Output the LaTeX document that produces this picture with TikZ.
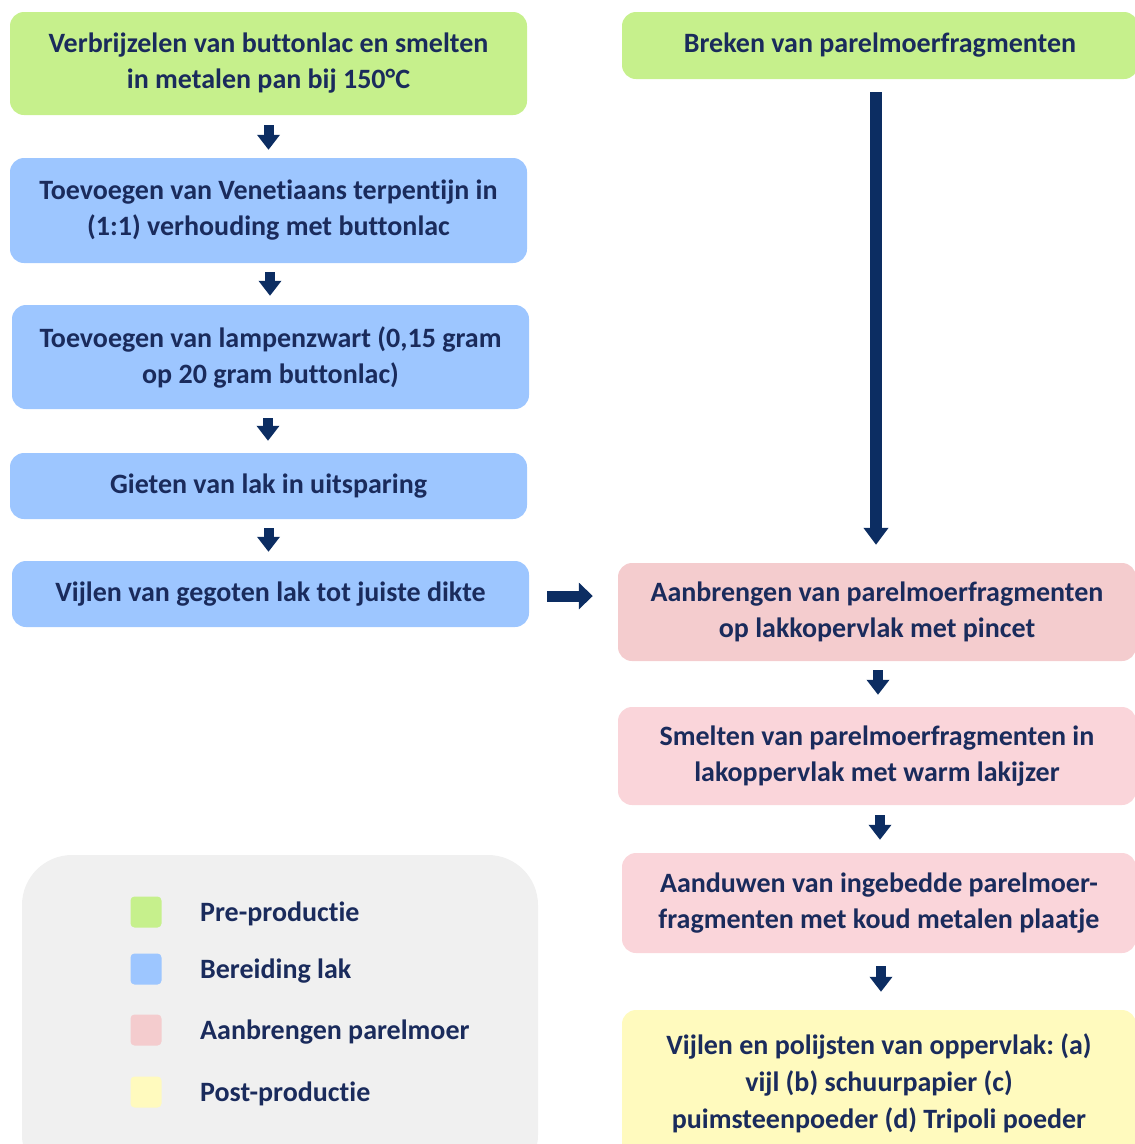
\documentclass[tikz,border=0pt]{standalone}
\usepackage{fontspec}
\setmainfont{Carlito}[Ligatures=NoCommon]
\frenchspacing
\usetikzlibrary{arrows.meta}
\definecolor{preprod}{HTML}{C6F08C}
\definecolor{bereid}{HTML}{9DC6FF}
\definecolor{aanbr}{HTML}{F4CCCE}
\definecolor{aanbrlicht}{HTML}{FAD5DA}
\definecolor{postprod}{HTML}{FFFABE}
\definecolor{legendgrijs}{HTML}{F0F0F0}
\definecolor{navy}{HTML}{0C2D62}
\definecolor{tekst}{HTML}{1A2B5C}

\begin{document}
\begin{tikzpicture}[x=1pt, y=-1pt,
    stap/.style={rounded corners=14pt, minimum width=517pt, align=center, text=tekst,
      font=\fontsize{28}{36}\selectfont\bfseries, inner sep=0pt},
    pijl/.style={navy, line width=10pt, -{Triangle[length=15pt,width=22pt]}},
    vakje/.style={rounded corners=4pt, minimum width=31pt, minimum height=31pt, inner sep=0pt},
    legtekst/.style={text=tekst, font=\fontsize{28}{36}\selectfont\bfseries, inner sep=0pt}]
    \useasboundingbox (0,0) rectangle (1135,1144);
    \clip (0,0) rectangle (1135,1144);
    \node[stap, fill=preprod, minimum height=103pt] (verbr) at (268.5,63.5)
      {Verbrijzelen van buttonlac en smelten\\in metalen pan bij 150°C};
    \node[stap, fill=bereid, minimum height=105pt] (venet) at (268.5,210.5)
      {Toevoegen van Venetiaans terpentijn in\\(1:1) verhouding met buttonlac};
    \node[stap, fill=bereid, minimum height=104pt] (lamp) at (270.5,357)
      {Toevoegen van lampenzwart (0,15 gram\\op 20 gram buttonlac)};
    \node[stap, fill=bereid, minimum height=66pt] (gieten) at (268.5,486)
      {Gieten van lak in uitsparing};
    \node[stap, fill=bereid, minimum height=66pt] (vijlen) at (270.5,594)
      {Vijlen van gegoten lak tot juiste dikte};
    \node[stap, fill=preprod, minimum width=516pt, minimum height=67pt] (breken) at (880,45.5)
      {Breken van parelmoerfragmenten};
    \node[stap, fill=aanbr, minimum width=518pt, minimum height=98pt] (aanbreng) at (877,612)
      {Aanbrengen van parelmoerfragmenten\\op lakkopervlak met pincet};
    \node[stap, fill=aanbrlicht, minimum width=518pt, minimum height=98pt] (smelt) at (877,756)
      {Smelten van parelmoerfragmenten in\\lakoppervlak met warm lakijzer};
    \node[stap, fill=aanbrlicht, minimum width=514pt, minimum height=100pt] (aandruk) at (879,903)
      {Aanduwen van ingebedde parelmoer-\\fragmenten met koud metalen plaatje};
    \node[stap, fill=postprod, minimum width=514pt, minimum height=146pt,
      font=\fontsize{28}{37}\selectfont\bfseries] (polijst) at (879,1083)
      {Vijlen en polijsten van oppervlak: (a)\\vijl (b) schuurpapier (c)\\puimsteenpoeder (d) Tripoli poeder};

    \draw[pijl, shorten <=10pt, shorten >=8pt] (verbr.south) -- (verbr.south |- venet.north);
    \draw[pijl, shorten <=9pt, shorten >=9pt] ([xshift=1.5pt]venet.south) -- ([xshift=1.5pt]venet.south |- lamp.north);
    \draw[pijl, shorten <=9pt, shorten >=12pt] ([xshift=-2.5pt]lamp.south) -- ([xshift=-2.5pt]lamp.south |- gieten.north);
    \draw[pijl, shorten <=9pt, shorten >=9pt] (gieten.south) -- (gieten.south |- vijlen.north);
    \draw[pijl, line width=12pt, -{Triangle[length=17pt,width=24pt]}, shorten <=13pt, shorten >=18pt]
      ([xshift=-4pt]breken.south) -- ([xshift=-4pt]breken.south |- aanbreng.north);
    \draw[pijl, line width=11pt, -{Triangle[length=14pt,width=26pt]}, shorten <=18pt, shorten >=25pt]
      ([yshift=-2pt]vijlen.east) -- ([yshift=-2pt]vijlen.east -| aanbreng.west);
    \draw[pijl, shorten <=9pt, shorten >=12pt] ([xshift=1pt]aanbreng.south) -- ([xshift=1pt]aanbreng.south |- smelt.north);
    \draw[pijl, shorten <=10pt, shorten >=13pt] ([xshift=3pt]smelt.south) -- ([xshift=3pt]smelt.south |- aandruk.north);
    \draw[pijl, shorten <=13pt, shorten >=18pt] ([xshift=2pt]aandruk.south) -- ([xshift=2pt]aandruk.south |- polijst.north);

    \node[fill=legendgrijs, rounded corners=50pt, minimum width=516pt, minimum height=330pt] (legenda) at (280,1020) {};
    \foreach \kl/\tk/\yy [count=\i] in {preprod/Pre-productie/912, bereid/Bereiding lak/969,
      aanbr/Aanbrengen parelmoer/1030, postprod/Post-productie/1092}{
      \node[vakje, fill=\kl] (vak\i) at (146,\yy) {};
      \node[legtekst, anchor=west] (leg\i) at (200,\yy+2) {\tk};
    }
\end{tikzpicture}
\end{document}
